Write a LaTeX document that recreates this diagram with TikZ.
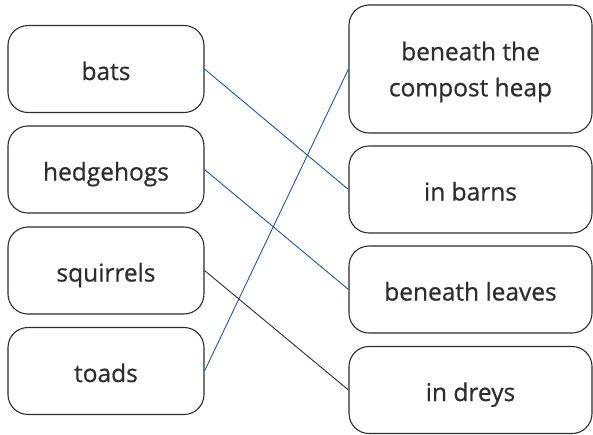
\documentclass[tikz,border=0pt]{standalone}
\usepackage{fontspec}
\setmainfont{Open Sans}
\newfontfamily\tagfont{Open Sans}[FakeBold=0.6]
\usepackage{xcolor}
\usepackage{tikz}
\definecolor{linkblue}{RGB}{28,88,160}
\definecolor{boxgray}{RGB}{45,45,45}

\begin{document}
\begin{tikzpicture}[x=1pt, y=-1pt,
    every node/.style = {font=\tagfont\fontsize{24.5}{36}\selectfont, text=boxgray,
                         text height=26pt, text depth=4pt},
    animal/.style     = {draw=boxgray, line width=1.1pt, rounded corners=20pt,
                         minimum width=196pt, minimum height=87pt, inner sep=0pt},
    home/.style       = {animal, minimum width=243pt, align=center},
    link/.style       = {line width=0.9pt, draw=linkblue}
  ]
  \useasboundingbox (0,0) rectangle (593,434);
  % animals
  \node[animal] (bats)      at (106,69)  {bats};
  \node[animal] (hedgehogs) at (106,169.5) {hedgehogs};
  \node[animal] (squirrels) at (106,270.5) {squirrels};
  \node[animal] (toads)     at (106,371) {toads};
  % homes
  \node[home, minimum height=128pt, text height=, text depth=-3pt] (compost)
    at (470.5,69) {beneath the\\compost heap};
  \node[home] (barns)  at (470.5,189.5) {in barns};
  \node[home] (leaves) at (470.5,289.5) {beneath leaves};
  \node[home] (dreys)  at (470.5,390)   {in dreys};
  % matches
  \draw[link] (bats.east) -- (barns.west);
  \draw[link] (hedgehogs.east) -- (leaves.west);
  \draw[link, draw=boxgray] (squirrels.east) -- (dreys.west);
  \draw[link] (toads.east) -- (compost.west);
\end{tikzpicture}
\end{document}
